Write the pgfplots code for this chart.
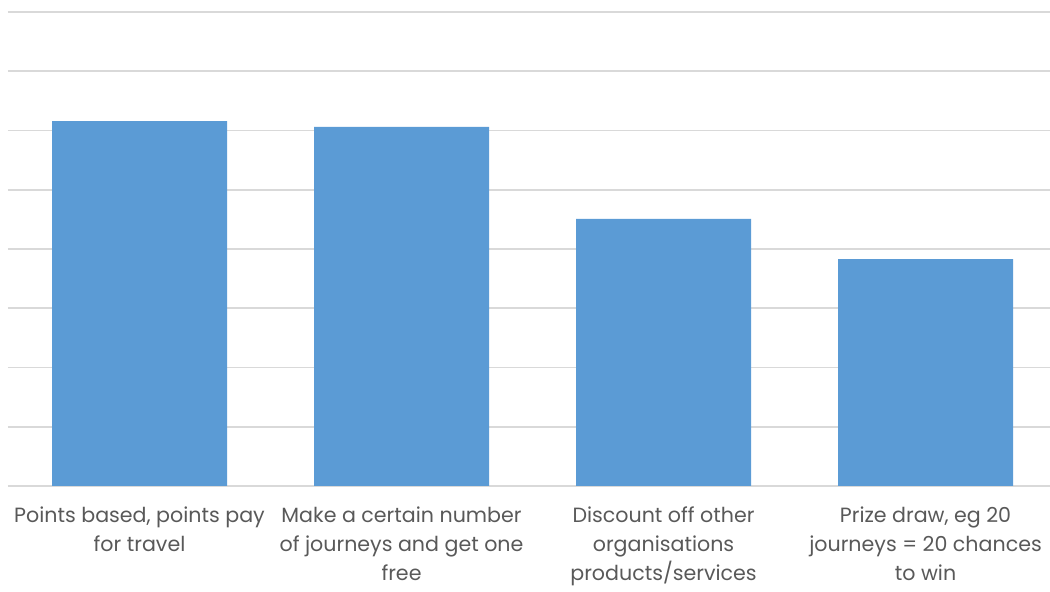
\documentclass[border=0pt]{standalone}
\usepackage{fontspec}
\setmainfont{Poppins}
\usepackage{pgfplots}
\pgfplotsset{compat=1.18}
\definecolor{barblue}{HTML}{5B9BD5}
\definecolor{gridgray}{HTML}{D9D9D9}
\definecolor{txtgray}{HTML}{595959}
\begin{document}
\begin{tikzpicture}
\useasboundingbox (-4pt,-53pt) rectangle (521pt,243pt);
\begin{axis}[
  at={(0,0)}, anchor=south west,
  scale only axis, width=521pt, height=237pt,
  xmin=-0.502, xmax=3.475, ymin=0, ymax=8,
  ytick={0,1,...,8}, yticklabels={},
  ymajorgrids, grid style={gridgray, line width=0.9pt},
  major tick length=0pt,
  axis line style={draw=none},
  xtick={0,1,2,3},
  xticklabels={{Points based, points pay\\for travel},{Make a certain number\\of journeys and get one\\free},{Discount off other\\organisations\\products/services},{Prize draw, eg 20\\journeys = 20 chances\\to win}},
  xticklabel style={align=center, font=\fontsize{10.3}{14.5}\selectfont, text=txtgray, yshift=-7pt},
  ybar, bar width=87.5pt,
]
\addplot[fill=barblue, draw=none] coordinates {(0,6.16) (1,6.06) (2,4.51) (3,3.83)};
\end{axis}
\end{tikzpicture}
\end{document}
